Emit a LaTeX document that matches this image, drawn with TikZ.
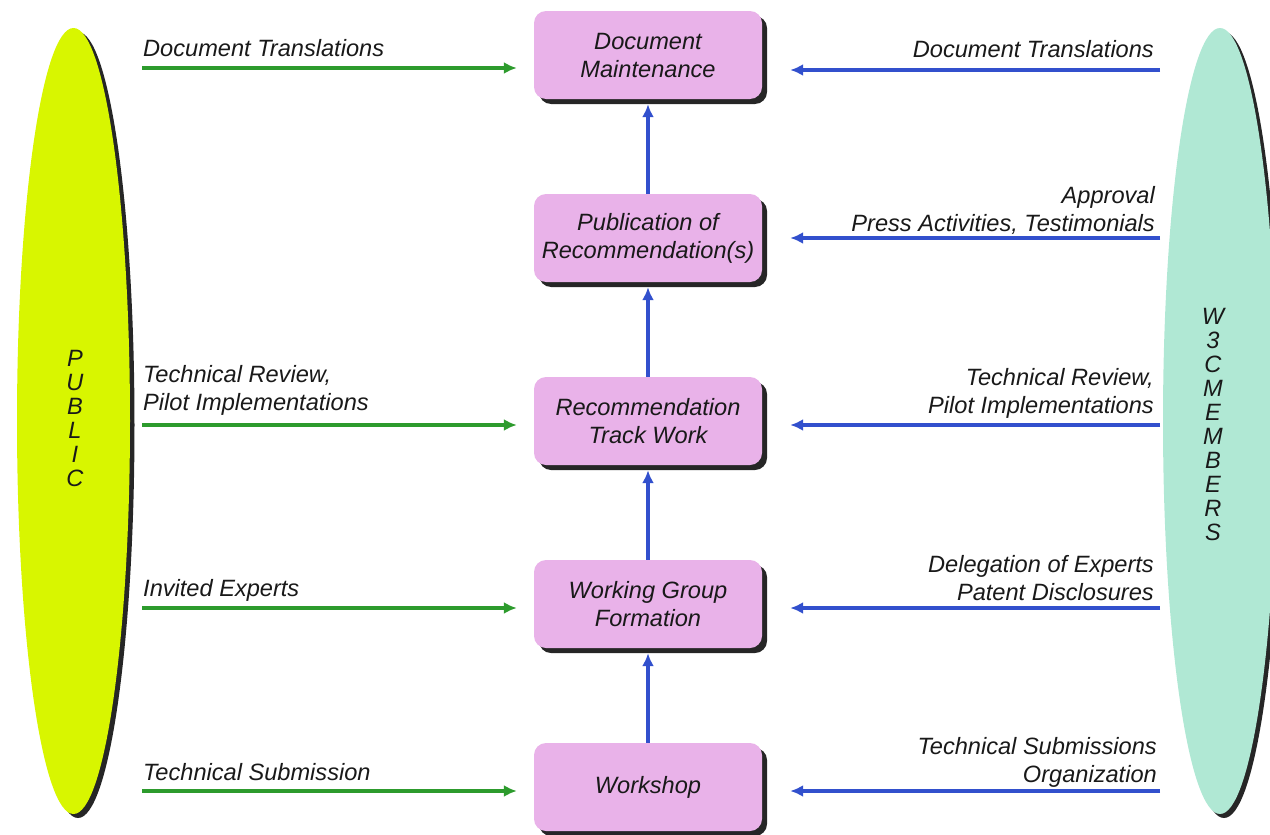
\documentclass[tikz,border=0pt]{standalone}
\usepackage{fontspec}
\setmainfont{Liberation Sans}
\usetikzlibrary{arrows.meta}
\definecolor{ink}{RGB}{25,25,25}
\definecolor{publime}{RGB}{216,246,0}
\definecolor{membermint}{RGB}{176,232,212}
\definecolor{stagepink}{RGB}{233,178,233}
\definecolor{flowgreen}{RGB}{45,155,45}
\definecolor{flowblue}{RGB}{50,80,205}
\begin{document}
\begin{tikzpicture}[x=1pt,y=-1pt,
  lbl/.style={font=\fontsize{23.6}{28}\selectfont\itshape, text=ink, inner sep=0pt, text depth=0pt},
  vlbl/.style={font=\fontsize{23.6}{24}\selectfont\itshape, text=ink, inner sep=0pt, align=center},
  stage/.style={rounded corners=12pt, fill=stagepink, minimum width=228pt, minimum height=88pt,
    align=center, inner sep=0pt, text=ink, font=\fontsize{23.6}{28}\selectfont\itshape,
    preaction={fill=black!85, transform canvas={xshift=5pt,yshift=-5pt}}},
  garrow/.style={draw=flowgreen, line width=3.2pt, -{Latex[length=13pt,width=12pt]}},
  barrow/.style={draw=flowblue, line width=3.2pt, -{Latex[length=13pt,width=12pt]}}
]
\clip (0,0) rectangle (1270,835);

% the two parties, drawn as tall ellipses with a dark shadow
\fill[black!85] (78,425) ellipse [x radius=56.5, y radius=393];
\fill[publime] (73.5,421) ellipse [x radius=56.5, y radius=393];
\fill[black!85] (1224,425) ellipse [x radius=57, y radius=393];
\fill[membermint] (1220,421) ellipse [x radius=57, y radius=393];
\node[vlbl] (pub) at (75,418) {P\\U\\B\\L\\I\\C};
\node[vlbl] (mem) at (1213,424) {W\\3\\C\\M\\E\\M\\B\\E\\R\\S};

% process stages
\node[stage] (dm) at (648,55)  {Document\\Maintenance};
\node[stage] (pr) at (648,238) {Publication of\\Recommendation(s)};
\node[stage] (rt) at (648,421) {Recommendation\\Track Work};
\node[stage] (wg) at (648,604) {Working Group\\Formation};
\node[stage] (ws) at (648,787) {Workshop};

% flow between stages
\draw[barrow] (ws.north) -- ([yshift=-5pt]wg.south);
\draw[barrow] (wg.north) -- ([yshift=-5pt]rt.south);
\draw[barrow] (rt.north) -- ([yshift=-5pt]pr.south);
\draw[barrow] (pr.north) -- ([yshift=-5pt]dm.south);

% public contributions
\coordinate (la) at (142,68);
\coordinate (lb) at (142,425);
\coordinate (lc) at (142,608);
\coordinate (ld) at (142,791);
\draw[garrow] (la) -- ([xshift=-17pt]dm.west |- la);
\draw[garrow] (lb) -- ([xshift=-17pt]rt.west |- lb);
\draw[garrow] (lc) -- ([xshift=-17pt]wg.west |- lc);
\draw[garrow] (ld) -- ([xshift=-17pt]ws.west |- ld);
\node[lbl, anchor=south west, align=left] (lt1) at (143,57) {Document Translations};
\node[lbl, anchor=south west, align=left] (lt2) at (143,411) {Technical Review,\\Pilot Implementations};
\node[lbl, anchor=south west, align=left] (lt3) at (143,597) {Invited Experts};
\node[lbl, anchor=south west, align=left] (lt4) at (143,781) {Technical Submission};

% member contributions
\coordinate (ra) at (1160,70);
\coordinate (rb) at (1160,238);
\coordinate (rc) at (1160,425);
\coordinate (rd) at (1160,608);
\coordinate (re) at (1160,791);
\draw[barrow] (ra) -- ([xshift=28pt]dm.east |- ra);
\draw[barrow] (rb) -- ([xshift=28pt]pr.east |- rb);
\draw[barrow] (rc) -- ([xshift=28pt]rt.east |- rc);
\draw[barrow] (rd) -- ([xshift=28pt]wg.east |- rd);
\draw[barrow] (re) -- ([xshift=28pt]ws.east |- re);
\node[lbl, anchor=south east, align=right] (rt1) at (1154,58) {Document Translations};
\node[lbl, anchor=south east, align=right] (rt2) at (1155,232) {Approval\\Press Activities, Testimonials};
\node[lbl, anchor=south east, align=right] (rt3) at (1154,414) {Technical Review,\hspace{4pt}\\Pilot Implementations};
\node[lbl, anchor=south east, align=right] (rt4) at (1154,601) {Delegation of Experts\\Patent Disclosures};
\node[lbl, anchor=south east, align=right] (rt5) at (1157,783) {Technical Submissions\\Organization};
\end{tikzpicture}
\end{document}
